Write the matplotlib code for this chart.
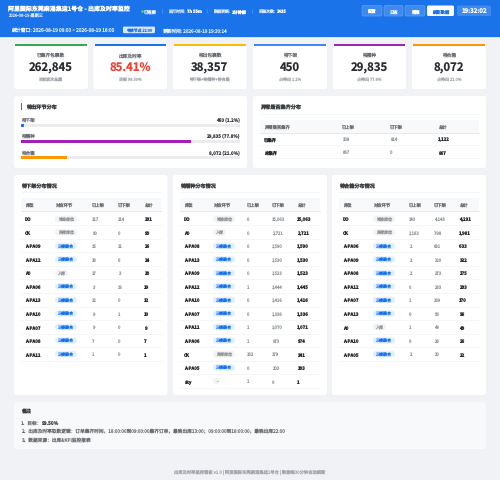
import matplotlib
matplotlib.use('Agg')
import matplotlib.pyplot as plt
from matplotlib.patches import FancyBboxPatch, Rectangle

plt.rcParams['font.family'] = ['Noto Sans CJK SC', 'DejaVu Sans']
plt.rcParams['text.hinting'] = 'no_hinting'

BLUE = '#1a73e8'
BG = '#f0f2f5'
DARK = '#2b2c30'
GREY = '#93979c'
MID = '#6b6f74'

# KPI cards
kpi_titles = ['已集齐包裹数', '出库及时率', '待出包裹数', '待下架', '待播种', '待合箱']
kpi_values = ['262,845', '85.41%', '38,357', '450', '29,835', '8,072']
kpi_notes = ['当前波次总量', '目标 99.50%', '待下架+待播种+待合箱',
             '占待出 1.2%', '占待出 77.8%', '占待出 21.0%']
kpi_colors = ['#34a853', '#1a73e8', '#fbbc04', '#4285f4', '#9c27b0', '#ff9800']

# stage distribution
stage_names = ['待下架', '待播种', '待合箱']
stage_counts = [450, 29835, 8072]
stage_pcts = [1.2, 77.8, 21.0]
stage_colors = ['#1a73e8', '#a31fb5', '#ff9800']

# exception table
exc_header = ['异常是否集齐', '已上架', '已下架', '总计']
exc_rows = [['已集齐', 308, 814, 1122],
            ['未集齐', 867, 0, 867]]

table_header = ['库位', '对应环节', '已上架', '已下架', '总计']
JH = '三楼聚合'
left_rows = [
    ['DO', '堆垛库位', 117, 114, 231], ['CK', '异常库位', 90, 0, 90],
    ['A-PA09', JH, 15, 11, 26], ['A-PA12', JH, 18, 6, 24],
    ['A0', '入库', 17, 3, 20], ['A-PA06', JH, 3, 16, 19],
    ['A-PA13', JH, 12, 0, 12], ['A-PA10', JH, 9, 1, 10],
    ['A-PA07', JH, 9, 0, 9], ['A-PA08', JH, 7, 0, 7],
    ['A-PA11', JH, 1, 0, 1],
]
mid_rows = [
    ['DO', '堆垛库位', 0, 15063, 15063], ['A0', '入库', 0, 2721, 2721],
    ['A-PA08', JH, 0, 1590, 1590], ['A-PA13', JH, 0, 1530, 1530],
    ['A-PA09', JH, 0, 1523, 1523], ['A-PA12', JH, 1, 1444, 1445],
    ['A-PA10', JH, 0, 1416, 1416], ['A-PA07', JH, 0, 1336, 1336],
    ['A-PA11', JH, 1, 1070, 1071], ['A-PA06', JH, 1, 973, 974],
    ['CK', '异常库位', 162, 179, 341], ['A-PA05', JH, 0, 203, 203],
    ['sky', '-', 1, 0, 1],
]
right_rows = [
    ['DO', '堆垛库位', 143, 4148, 4291], ['CK', '异常库位', 1183, 798, 1981],
    ['A-PA06', JH, 2, 631, 633], ['A-PA09', JH, 2, 320, 322],
    ['A-PA08', JH, 2, 273, 275], ['A-PA12', JH, 0, 233, 233],
    ['A-PA07', JH, 1, 169, 170], ['A-PA13', JH, 0, 56, 56],
    ['A0', '入库', 1, 48, 49], ['A-PA10', JH, 0, 26, 26],
    ['A-PA05', JH, 2, 20, 22],
]

notes = ['1、目标：', '2、出库及时率取数逻辑：订单集齐时间，18:00:00到09:00:00集齐订单，最晚出库13:00；09:00:00到18:00:00，最晚出库22:00',
         '3、数据来源：出库&KPI监控报表']

fig = plt.figure(figsize=(5, 4.81), dpi=100, facecolor=BG)
ax = fig.add_axes([0, 0, 1, 1])
ax.set_xlim(0, 500)
ax.set_ylim(481, 0)
ax.axis('off')


def box(x0, y0, x1, y1, color='white', r=2.5, ec='none', lw=0, z=1):
    ax.add_patch(FancyBboxPatch((x0 + r, y0 + r), x1 - x0 - 2 * r, y1 - y0 - 2 * r,
                                boxstyle=f'round,pad={r},rounding_size={r}',
                                fc=color, ec=ec, lw=lw, zorder=z))


def txt(x, y, s, size=3.6, color=MID, weight='normal', ha='left', z=5):
    ax.text(x, y, s, fontsize=size, color=color, fontweight=weight,
            ha=ha, va='center', zorder=z)


def fmt(v):
    return f'{v:,}'


# header
ax.add_patch(Rectangle((0, 0), 500, 38, fc=BLUE, ec='none', zorder=1))
ax.add_patch(Rectangle((0, 38), 500, 1.2, fc='#dfe3e8', ec='none', zorder=1))
txt(8, 9, '阿里国际东莞麻涌集运1号仓 - 出库及时率监控', 4.3, 'white', 'bold')
txt(8, 16, '2026-08-19 星期三', 3.0, '#d2e3fc')
ax.plot([141.5], [11.8], 'o', ms=1.7, color='#5ee08a', mec='none', zorder=5)
txt(144, 11.8, '已连接', 3.1, '#e8f0fe')
txt(168, 11.8, '运行时间:', 2.9, '#d2e3fc')
txt(187, 11.8, '7h 55m', 3.0, 'white', 'bold')
txt(213, 11.8, '数据更新:', 2.9, '#d2e3fc')
txt(232, 11.8, '1分钟前', 3.0, 'white', 'bold')
txt(258, 11.8, '采集次数:', 2.9, '#d2e3fc')
txt(277, 11.8, '1435', 3.0, 'white', 'bold')
for sx in [162, 207, 252]:
    ax.plot([sx, sx], [9.5, 14], color='#5a9bf0', lw=0.4, zorder=4)

for x0, x1, label in [(362, 382, '配置'), (384, 403, '日志'), (405, 425, '播报')]:
    box(x0, 6.5, x1, 17, '#3f8aee', 1.5, '#6ba5f2', 0.4, 3)
    txt((x0 + x1) / 2, 11.8, label, 3.1, 'white', ha='center')
box(427, 6.5, 454, 17, 'white', 1.5, z=3)
txt(440.5, 11.8, '刷新数据', 3.1, BLUE, ha='center')
box(457, 6.5, 491, 17, '#3f8aee', 1.5, z=3)
txt(474, 11.8, '19:32:02', 4.4, 'white', 'bold', ha='center')

txt(11, 31, '统计窗口: 2026-08-19 09:00 ~ 2026-08-19 18:00', 3.5, '#e8f0fe')
box(123, 27.6, 155, 34.2, '#dbe8fc', 1.2, z=3)
txt(139, 31, '考核节点 22:00', 2.8, BLUE, ha='center')
txt(162, 31, '更新时间: 2026-08-19 19:30:14', 3.4, '#e8f0fe')

# KPI cards
card_x = [(14, 88), (93.5, 167), (173, 246.5), (253, 327), (333, 406), (412, 486)]
for (x0, x1), title, value, note, color in zip(card_x, kpi_titles, kpi_values, kpi_notes, kpi_colors):
    box(x0, 45, x1, 90)
    ax.add_patch(Rectangle((x0 + 1, 45), x1 - x0 - 2, 1.5, fc=color, ec='none', zorder=2))
    cx = (x0 + x1) / 2
    txt(cx, 55.5, title, 3.4, MID, ha='center')
    vcolor = '#ea4335' if value.endswith('%') else DARK
    txt(cx, 68.5, value, 8.2, vcolor, 'bold', ha='center')
    txt(cx, 80.5, note, 2.9, '#a5a9ae', ha='center')

# stage distribution panel
box(14, 97, 247, 169)
ax.add_patch(Rectangle((21, 104), 1.2, 7, fc=BLUE, ec='none', zorder=3))
txt(26, 108, '待出环节分布', 3.7, '#3c4043', 'bold')
label_y = [120, 136.5, 153]
for y, name, count, pct in zip(label_y, stage_names, stage_counts, stage_pcts):
    txt(21, y, name, 3.3, MID)
    txt(240, y, f'{count:,} ({pct}%)', 3.3, '#3c4043', 'bold', ha='right')

bar_ax = fig.add_axes([21 / 500, 1 - 166.3 / 481, 219 / 500, 48 / 481])
bar_ax.patch.set_alpha(0)
bar_ax.barh(range(3), [100] * 3, height=0.19, color='#ececee')
bar_ax.barh(range(3), stage_pcts, height=0.19, color=stage_colors)
bar_ax.set_xlim(0, 100)
bar_ax.set_ylim(2.5, -0.5)
bar_ax.axis('off')

# exception panel
box(253, 97, 486, 169)
txt(260, 108, '异常是否集齐分布', 3.7, '#3c4043', 'bold')
ax.plot([260, 479], [114.5, 114.5], color='#f1f3f4', lw=0.5, zorder=3)
ax.add_patch(Rectangle((260, 121), 219, 12.5, fc='#f8f9fa', ec='none', zorder=2))
ax.plot([260, 479], [133.5, 133.5], color='#e3e5e8', lw=0.6, zorder=3)
exc_x = [264, 342, 390, 438]
for x, h in zip(exc_x, exc_header):
    txt(x, 127.3, h, 3.1, MID)
for i, row in enumerate(exc_rows):
    y = 140 + i * 13
    txt(exc_x[0], y, row[0], 3.1, DARK, 'bold')
    txt(exc_x[1], y, fmt(row[1]), 3.1, GREY)
    txt(exc_x[2], y, fmt(row[2]), 3.1, GREY)
    txt(exc_x[3], y, fmt(row[3]), 3.2, DARK, 'bold')
    ax.plot([260, 479], [y + 6.3, y + 6.3], color='#f1f3f4', lw=0.5, zorder=3)


def stock_table(x0, x1, title, rows, col_x):
    box(x0, 176, x1, 396)
    left, right = x0 + 7, x1 - 7
    txt(left, 187, title, 3.7, '#3c4043', 'bold')
    ax.plot([left, right], [193.3, 193.3], color='#f1f3f4', lw=0.5, zorder=3)
    ax.add_patch(Rectangle((left, 199), right - left, 13, fc='#f8f9fa', ec='none', zorder=2))
    ax.plot([left, right], [212.2, 212.2], color='#e3e5e8', lw=0.6, zorder=3)
    for x, h in zip(col_x, table_header):
        txt(x, 205.5, h, 3.1, MID)
    for i, row in enumerate(rows):
        y = 219.8 + i * 13.52
        txt(col_x[0], y, row[0], 3.2, DARK, 'bold')
        stage = row[1]
        if stage == JH:
            box(col_x[1], y - 3.2, col_x[1] + 22, y + 3.2, '#e3f1fd', 3, z=3)
            txt(col_x[1] + 11, y, stage, 2.9, BLUE, ha='center')
        else:
            w = 22 if len(stage) == 4 else (13 if len(stage) == 2 else 7)
            box(col_x[1], y - 3.2, col_x[1] + w, y + 3.2, '#f1f3f4', 3, z=3)
            txt(col_x[1] + w / 2, y, stage, 2.9, GREY, ha='center')
        txt(col_x[2], y, fmt(row[2]), 3.1, GREY)
        txt(col_x[3], y, fmt(row[3]), 3.1, GREY)
        txt(col_x[4], y, fmt(row[4]), 3.2, DARK, 'bold')
        ax.plot([left, right], [y + 6.6, y + 6.6], color='#f1f3f4', lw=0.5, zorder=3)


stock_table(14, 167.5, '待下架分布情况', left_rows, [25, 55, 92, 118, 144])
stock_table(173, 327, '待播种分布情况', mid_rows, [184, 213, 247, 272, 297])
stock_table(332, 486, '待合箱分布情况', right_rows, [343, 373, 409, 434, 459])

# notes
box(14, 403, 486, 450, '#f8f9fa')
txt(21, 412, '备注', 3.6, '#3c4043', 'bold')
txt(21, 423, notes[0], 3.4, MID)
txt(42, 423, '99.50%', 3.4, '#3c4043', 'bold')
txt(21, 431.5, notes[1], 3.4, MID)
txt(21, 440, notes[2], 3.4, MID)

txt(250, 472.5, '出库及时率监控看板 v1.0 | 阿里国际东莞麻涌集运1号仓 | 数据每30分钟自动刷新', 3.1, '#a5a9ae', ha='center')

fig.savefig('out.png', dpi=100, facecolor=BG)
